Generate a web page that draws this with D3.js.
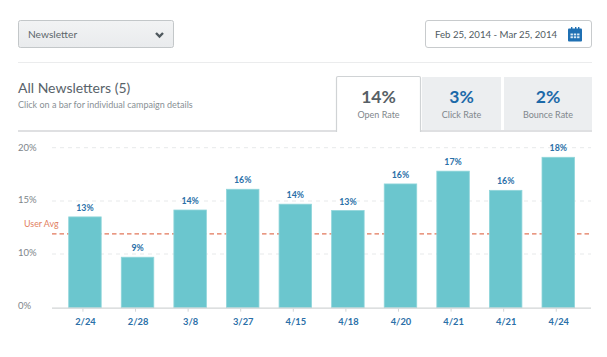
<!DOCTYPE html>
<html>
<head>
<meta charset="utf-8">
<script src="https://cdn.jsdelivr.net/npm/d3@7"></script>
<style>
html,body{margin:0;padding:0;background:#fff;}
svg{display:block;}
text{font-family:Lato,"Open Sans",sans-serif;}
</style>
</head>
<body>
<svg id="c" width="607" height="357"></svg>
<script>
const dates = ["2/24","2/28","3/8","3/27","4/15","4/18","4/20","4/21","4/21","4/24"];
const barValues = [13.5,9.4,14.15,16.1,14.7,14.1,16.6,17.8,16.0,19.1];
const barLabels = ["13%","9%","14%","16%","14%","13%","16%","17%","16%","18%"];
const yTicks = [0,10,15,20];
const userAvg = 11.9;
const tabNames = ["Open Rate","Click Rate","Bounce Rate"];
const tabValues = ["14%","3%","2%"];

const svg = d3.select("#c");
const defs = svg.append("defs");
const g = defs.append("linearGradient").attr("id","dd").attr("x1",0).attr("x2",0).attr("y1",0).attr("y2",1);
g.append("stop").attr("offset","0").attr("stop-color","#f2f3f4");
g.append("stop").attr("offset","1").attr("stop-color","#e9ebed");

// Header controls
svg.append("rect").attr("x",18.5).attr("y",20.5).attr("width",155).attr("height",27).attr("rx",2)
  .attr("fill","url(#dd)").attr("stroke","#c3c7c9");
svg.append("text").attr("x",28).attr("y",37.5).attr("font-size",10.2).attr("fill","#5c666b").text("Newsletter");
svg.append("path").attr("d","M156 33l3.5 3.5 3.5-3.5").attr("fill","none").attr("stroke","#4f595e").attr("stroke-width",2.4);

svg.append("rect").attr("x",425.5).attr("y",20.5).attr("width",166).attr("height",27).attr("rx",2.5)
  .attr("fill","#fff").attr("stroke","#c8cbcd");
svg.append("text").attr("x",435).attr("y",38).attr("font-size",9.65).attr("fill","#505a5f").text("Feb 25, 2014 - Mar 25, 2014");
// calendar icon
const cal = svg.append("g").attr("transform","translate(568,27)");
cal.append("rect").attr("width",14).attr("height",13).attr("y",1.5).attr("rx",1).attr("fill","#1f70b3");
cal.append("g").selectAll("rect").data([3,7,10]).join("rect")
  .attr("x",d=>d).attr("y",0).attr("width",1.4).attr("height",2).attr("fill","#1f70b3");
cal.append("g").selectAll("rect").data(d3.cross([0,1,2],[0,1])).join("rect")
  .attr("x",d=>2.5+d[0]*3.3).attr("y",d=>6.5+d[1]*2.8).attr("width",2.4).attr("height",1.9).attr("fill","#dcebf6");

svg.append("line").attr("x1",18).attr("x2",592).attr("y1",62.5).attr("y2",62.5).attr("stroke","#ebeced");

svg.append("text").attr("x",18).attr("y",93).attr("font-size",14).attr("fill","#59636a").text("All Newsletters (5)");
svg.append("text").attr("x",18).attr("y",108).attr("font-size",9).attr("fill","#899095").text("Click on a bar for individual campaign details");

// Tabs
const tabBoxes = [[336.5,84],[422,79],[504,88]];
const tabs = svg.append("g");
tabs.append("line").attr("x1",18).attr("x2",592).attr("y1",131).attr("y2",131).attr("stroke","#d4d6d8").attr("stroke-width",1.6);
tabs.selectAll("g").data(tabNames).join("g").each(function(name,i){
  const s = d3.select(this), [x,w] = tabBoxes[i];
  if(i===0){
    s.append("path").attr("d",`M${x} 132V78a1.5 1.5 0 0 1 1.5-1.5H${x+w-1.5}a1.5 1.5 0 0 1 1.5 1.5V132`)
      .attr("fill","#fff").attr("stroke","#d0d3d5").attr("stroke-width",1.2);
  } else {
    s.append("rect").attr("x",x).attr("y",77).attr("width",w).attr("height",53).attr("fill","#eceef0");
  }
  s.append("text").attr("x",x+w/2).attr("y",103).attr("text-anchor","middle").attr("font-size",17.5).attr("font-weight",700)
    .attr("fill",i===0?"#575f66":"#1c69a8").text(tabValues[i]);
  s.append("text").attr("x",x+w/2).attr("y",118).attr("text-anchor","middle").attr("font-size",9)
    .attr("fill","#7f878c").text(name);
});

// Chart
const x = d3.scaleBand().domain(d3.range(dates.length)).range([68.7,574.5]).paddingInner(0.382).paddingOuter(0);
const y = d3.scaleLinear().domain([0,10,15,20]).range([307.7,254,201,147.7]);

svg.append("g").selectAll("line").data(yTicks.filter(d=>d>0)).join("line")
  .attr("x1",52).attr("x2",591).attr("y1",d=>y(d)).attr("y2",d=>y(d))
  .attr("stroke","#e7e9ea").attr("stroke-dasharray","4 4");

svg.append("g").selectAll("text").data(yTicks).join("text")
  .attr("x",18).attr("y",d=>y(d)+(d===20?3:1.5)).attr("font-size",9.5).attr("fill","#7d858a").text(d=>d+"%");

svg.append("line").attr("x1",52).attr("x2",592).attr("y1",y(userAvg)).attr("y2",y(userAvg))
  .attr("stroke","#e2775a").attr("stroke-width",1.2).attr("stroke-dasharray","4.5 3");
svg.append("text").attr("x",24).attr("y",y(userAvg)-7).attr("font-size",8.9).attr("fill","#e2805f").text("User Avg");

svg.append("g").selectAll("rect").data(barValues).join("rect")
  .attr("x",(d,i)=>x(i)).attr("width",x.bandwidth())
  .attr("y",d=>y(d)).attr("height",d=>y(0)-y(d))
  .attr("fill","#6bc6ce").attr("stroke","#8fd5da").attr("stroke-width",0.8);

svg.append("g").selectAll("text").data(barLabels).join("text")
  .attr("x",(d,i)=>x(i)+x.bandwidth()/2).attr("y",(d,i)=>y(barValues[i])-6)
  .attr("text-anchor","middle").attr("font-size",8.8).attr("font-weight",700).attr("fill","#2a6fa8").text(d=>d);

svg.append("line").attr("x1",52).attr("x2",591).attr("y1",y(0)+.5).attr("y2",y(0)+.5).attr("stroke","#d2d5d6").attr("stroke-width",1.2);
svg.append("g").selectAll("line").data(dates).join("line")
  .attr("x1",(d,i)=>x(i)+x.bandwidth()/2-2).attr("x2",(d,i)=>x(i)+x.bandwidth()/2-2)
  .attr("y1",y(0)+1).attr("y2",y(0)+4).attr("stroke","#d2d5d6");
svg.append("g").selectAll("text").data(dates).join("text")
  .attr("x",(d,i)=>x(i)+x.bandwidth()/2+0.5).attr("y",325).attr("text-anchor","middle")
  .attr("font-size",9.3).attr("font-weight",700).attr("fill","#2a6fa8").text(d=>d);
</script>
</body>
</html>
